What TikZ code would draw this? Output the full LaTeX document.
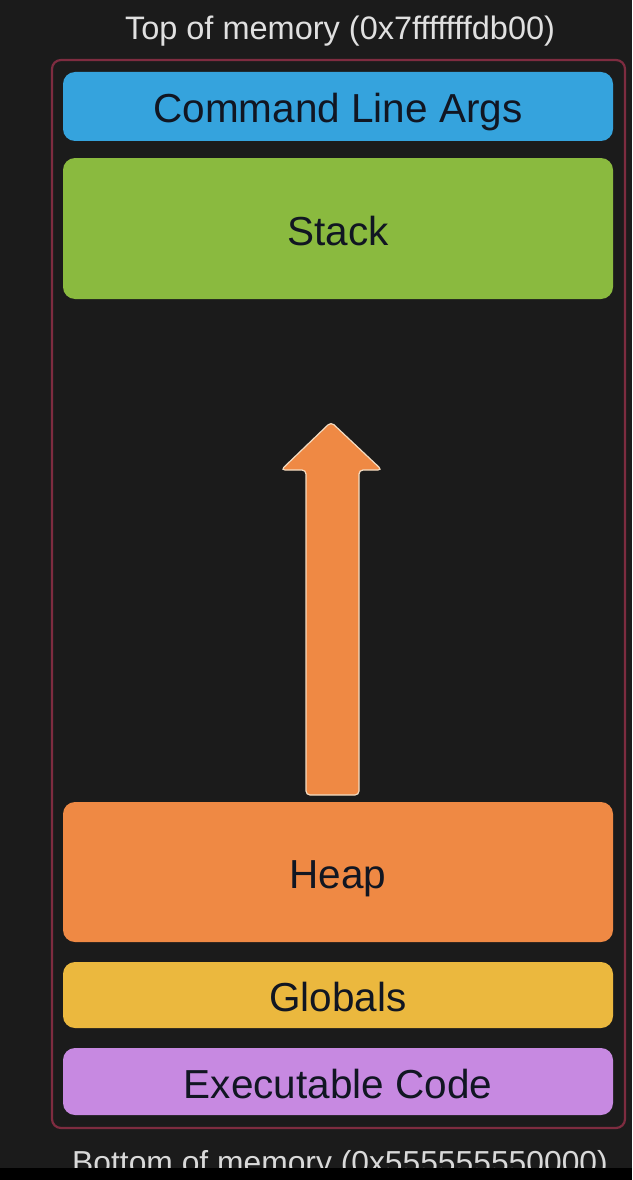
\documentclass[tikz,border=0pt]{standalone}
\usepackage{fontspec}
\setmainfont{Liberation Sans}
\usepackage{tikz}

\definecolor{bgdark}{HTML}{1B1B1B}
\definecolor{framered}{HTML}{7E2C40}
\definecolor{argsblue}{HTML}{35A3DD}
\definecolor{stackgreen}{HTML}{8ABA3F}
\definecolor{heaporange}{HTML}{EF8944}
\definecolor{globyellow}{HTML}{EBB83E}
\definecolor{codepurple}{HTML}{C789E1}
\definecolor{labeltext}{HTML}{111622}
\definecolor{arrowedge}{HTML}{F3DCC2}

\begin{document}
\begin{tikzpicture}[x=1pt, y=-1pt,
  segment/.style={rounded corners=12pt, minimum width=550pt, text=labeltext,
    font=\fontsize{40.5}{44}\selectfont, inner sep=0pt, text height=33pt, text depth=0pt}]
% Fix the page to the size of the screenshot
\fill[bgdark] (0,0) rectangle (632,1180);
\useasboundingbox (0,0) rectangle (632,1180);
% Outer frame round the whole address space
\draw[framered, line width=2.2pt, rounded corners=9pt] (52,60) rectangle (625,1128);
\node[text=white!88!black, font=\fontsize{32.5}{36}\selectfont, anchor=base] (top) at (340,40) {Top of memory (0x7fffffffdb00)};
% The segments, top to bottom
\node[segment, fill=argsblue, minimum height=69pt] (args) at (338,106.5) {Command Line Args};
\node[segment, fill=stackgreen, minimum height=141pt] (stack) at (338,228.5) {Stack};
\node[segment, fill=heaporange, minimum height=140pt] (heap) at (338,872) {Heap};
\node[segment, fill=globyellow, minimum height=66pt] (globals) at (338,995) {Globals};
\node[segment, fill=codepurple, minimum height=67pt] (code) at (338,1081.5) {Executable Code};
% The heap grows upwards, so the arrow is drawn by hand
\filldraw[fill=heaporange, draw=arrowedge, line width=1.2pt, rounded corners=4pt]
  (306,795) -- (306,470) -- (281,470) -- (331,422) -- (382,470) -- (359,470) -- (359,795) -- cycle;
\node[text=white!85!black, font=\fontsize{31.8}{35}\selectfont, anchor=base] (bottom) at (340,1173) {Bottom of memory (0x555555550000)};
% The screenshot is cut off by a black strip
\fill[black] (0,1168) rectangle (632,1180);
\end{tikzpicture}
\end{document}
